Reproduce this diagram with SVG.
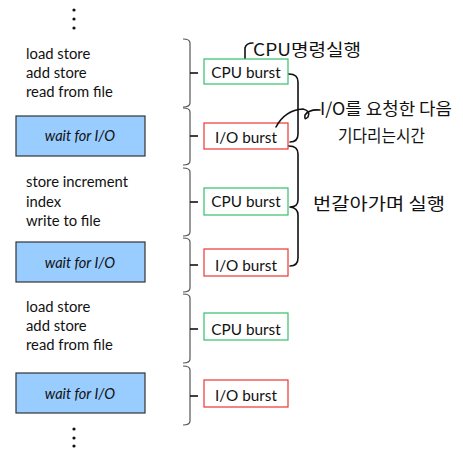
<svg xmlns="http://www.w3.org/2000/svg" width="463" height="463" viewBox="0 0 463 463">
<style>
.code{font-family:Lato,"Open Sans","Liberation Sans",sans-serif;font-size:14.8px;fill:#111}
.wait{fill:#99ccff;stroke:#333;stroke-width:1.2}
.wt{font-family:Lato,"Open Sans","Liberation Sans",sans-serif;font-size:14.5px;font-style:italic;fill:#111;text-anchor:middle}
.cpu{fill:#fff;stroke:#33c06a;stroke-width:1.2}
.io{fill:#fff;stroke:#ee3535;stroke-width:1.2}
.bt{font-family:Lato,"Open Sans","Liberation Sans",sans-serif;font-size:15.3px;fill:#111;text-anchor:middle}
.br{fill:none;stroke:#555;stroke-width:1.2}
.tick{stroke:#111;stroke-width:1.6}
.hand{fill:none;stroke:#111;stroke-width:1.6;stroke-linecap:round;stroke-linejoin:round}
.ht{font-family:"Noto Sans CJK KR",sans-serif;font-size:17px;fill:#111}
.dot{fill:#111}
</style>
<g id="dots-top"><circle class="dot" cx="74" cy="10" r="1.6"/><circle class="dot" cx="74" cy="19" r="1.6"/><circle class="dot" cx="74" cy="28" r="1.6"/></g>
<g id="code1"><text class="code" x="26" y="59">load store</text><text class="code" x="26" y="78">add store</text><text class="code" x="26" y="97">read from file</text></g>
<g id="wait1"><rect class="wait" x="16" y="116" width="129" height="40"/><text class="wt" x="80" y="141">wait for I/O</text></g>
<g id="code2"><text class="code" x="26" y="187">store increment</text><text class="code" x="26" y="207">index</text><text class="code" x="26" y="226">write to file</text></g>
<g id="wait2"><rect class="wait" x="16" y="242" width="129" height="40"/><text class="wt" x="80" y="268">wait for I/O</text></g>
<g id="code3"><text class="code" x="26" y="312">load store</text><text class="code" x="26" y="331">add store</text><text class="code" x="26" y="350">read from file</text></g>
<g id="wait3"><rect class="wait" x="16" y="373" width="129" height="40"/><text class="wt" x="80" y="399">wait for I/O</text></g>
<g id="dots-bottom"><circle class="dot" cx="74" cy="429" r="1.6"/><circle class="dot" cx="74" cy="438" r="1.6"/><circle class="dot" cx="74" cy="446" r="1.6"/></g>
<g id="cpu1"><rect class="cpu" x="204" y="59" width="84" height="25"/><text class="bt" x="246" y="78">CPU burst</text></g>
<g id="io1"><rect class="io" x="204" y="123" width="84" height="26"/><text class="bt" x="246" y="143">I/O burst</text></g>
<g id="cpu2"><rect class="cpu" x="204" y="188" width="84" height="27"/><text class="bt" x="246" y="207">CPU burst</text></g>
<g id="io2"><rect class="io" x="204" y="249" width="84" height="27"/><text class="bt" x="246" y="271">I/O burst</text></g>
<g id="cpu3"><rect class="cpu" x="204" y="313" width="84" height="27"/><text class="bt" x="246" y="335">CPU burst</text></g>
<g id="io3"><rect class="io" x="204" y="380" width="84" height="27"/><text class="bt" x="246" y="401">I/O burst</text></g>
<g id="connectors">
<path class="br" d="M183,39 Q190,39 190,43 V103 Q190,107 183,107"/><path class="tick" d="M190,73 H198"/>
<path class="br" d="M183,108 Q190,108 190,112 V161 Q190,165 183,165"/><path class="tick" d="M190,136 H198"/>
<path class="br" d="M183,168 Q190,168 190,172 V232 Q190,236 183,236"/><path class="tick" d="M190,202 H198"/>
<path class="br" d="M183,238 Q190,238 190,242 V288 Q190,292 183,292"/><path class="tick" d="M190,265 H198"/>
<path class="br" d="M183,294 Q190,294 190,298 V359 Q190,363 183,363"/><path class="tick" d="M190,329 H198"/>
<path class="br" d="M183,366 Q190,366 190,370 V421 Q190,425 183,425"/><path class="tick" d="M190,396 H198"/>
<path class="hand" d="M289,74 Q298,74 298,82 L298,134 Q298,142 290,142"/>
<path class="hand" d="M289,146 Q298,146 298,154 L298,200 Q298,207 290,207 Q298,208 298,215 L298,258 Q298,266 290,266"/>
<path class="hand" d="M245,58 L245,48 Q246,43 253,43"/>
<path class="hand" d="M276,127 Q285,110 303,109 Q311,111 308,117 Q304,121 305,115 Q309,109 320,110"/>
</g>
<g id="notes">
<text class="ht" x="253" y="56" textLength="108" lengthAdjust="spacingAndGlyphs">CPU명령실행</text>
<text class="ht" x="320" y="115" textLength="132" lengthAdjust="spacingAndGlyphs">I/O를 요청한 다음</text>
<text class="ht" x="338" y="142" textLength="87" lengthAdjust="spacingAndGlyphs">기다리는시간</text>
<text class="ht" x="313" y="210" font-size="19" textLength="132" lengthAdjust="spacingAndGlyphs">번갈아가며 실행</text>
</g>
</svg>
